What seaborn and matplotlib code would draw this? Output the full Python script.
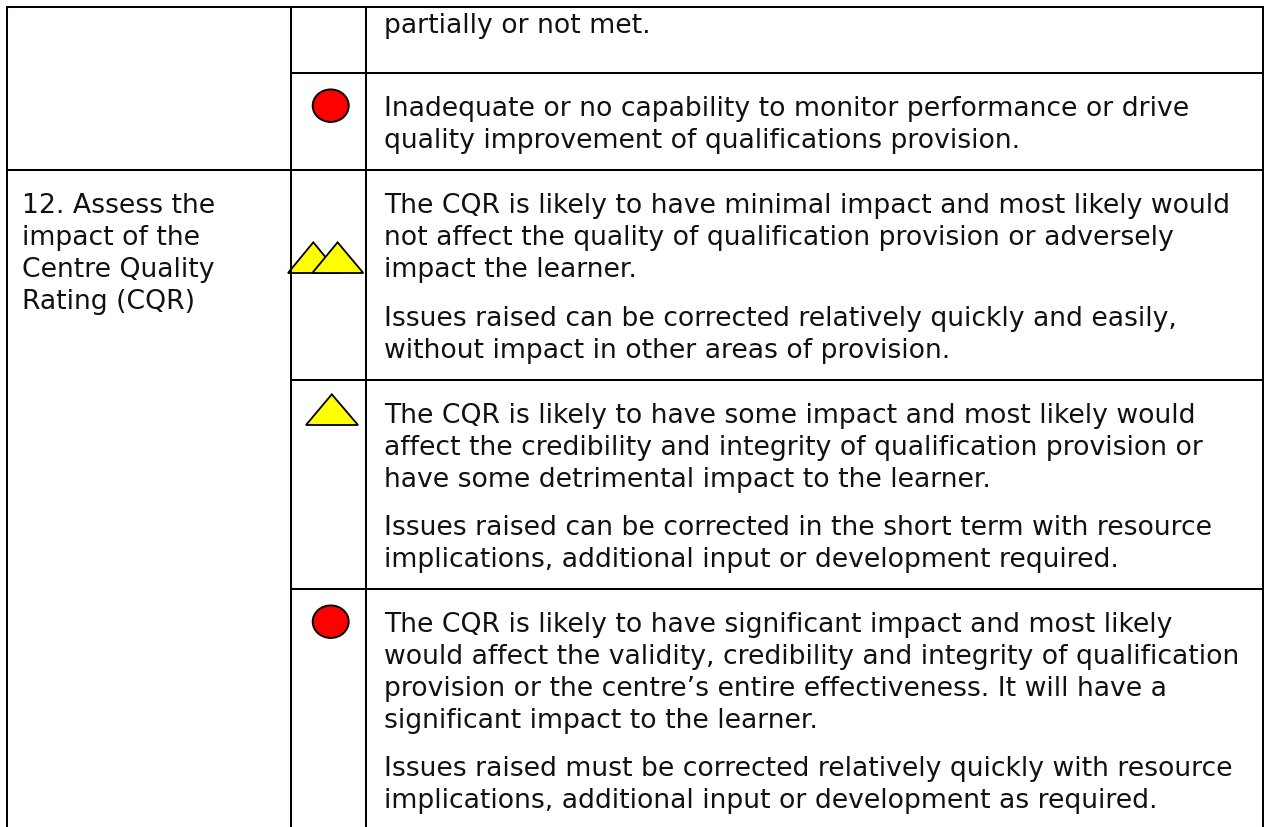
import matplotlib
matplotlib.use("Agg")
import matplotlib.pyplot as plt
import seaborn as sns
from matplotlib.patches import Ellipse, Polygon

sns.set_theme(style="white")
plt.rcParams['font.family'] = ['DejaVu Sans']

W, H = 1264, 828
category_text = ["12. Assess the", "impact of the", "Centre Quality", "Rating (CQR)"]
category_y = [213, 245, 277, 309.5]

body_text = [
    ("partially or not met.", 33),
    ("Inadequate or no capability to monitor performance or drive", 115.5),
    ("quality improvement of qualifications provision.", 147.5),
    ("The CQR is likely to have minimal impact and most likely would", 213),
    ("not affect the quality of qualification provision or adversely", 245),
    ("impact the learner.", 277),
    ("Issues raised can be corrected relatively quickly and easily,", 326),
    ("without impact in other areas of provision.", 358),
    ("The CQR is likely to have some impact and most likely would", 423),
    ("affect the credibility and integrity of qualification provision or", 455),
    ("have some detrimental impact to the learner.", 487),
    ("Issues raised can be corrected in the short term with resource", 535),
    ("implications, additional input or development required.", 567),
    ("The CQR is likely to have significant impact and most likely", 632),
    ("would affect the validity, credibility and integrity of qualification", 664),
    ("provision or the centre\u2019s entire effectiveness. It will have a", 696),
    ("significant impact to the learner.", 728),
    ("Issues raised must be corrected relatively quickly with resource", 776),
    ("implications, additional input or development as required.", 808),
]

fig = plt.figure(figsize=(W / 100, H / 100), dpi=100)
ax = fig.add_axes([0, 0, 1, 1])
ax.set_xlim(0, W)
ax.set_ylim(H, 0)
ax.axis("off")

lw = 1.45
for x in (7, 291, 366, 1263):
    ax.plot([x, x], [7, 828], color="black", lw=lw, solid_capstyle="butt")
ax.plot([6, 1264], [7.5, 7.5], color="black", lw=lw, solid_capstyle="butt")
ax.plot([291, 1263], [74, 74], color="black", lw=lw, solid_capstyle="butt")
ax.plot([7, 1263], [171, 171], color="black", lw=lw, solid_capstyle="butt")
ax.plot([291, 1263], [381, 381], color="black", lw=lw, solid_capstyle="butt")
ax.plot([291, 1263], [590, 590], color="black", lw=lw, solid_capstyle="butt")

tris = [[(288, 274), (313.3, 243.3), (338.6, 274)],
        [(312.3, 274), (337.6, 243.3), (363.3, 274)],
        [(306, 426), (331.8, 395.3), (358, 426)]]
for t in tris:
    ax.add_patch(Polygon(t, closed=True, fc="#FFFF00", ec="black", lw=1.3, joinstyle="miter"))
for c in [(330.7, 106.7), (330.7, 622.7)]:
    ax.add_patch(Ellipse(c, 36, 32.5, fc="#FF0000", ec="black", lw=1.4))

fs = 19.2
for s, y in body_text:
    ax.text(384, y, s, fontsize=fs, color="#111111", va="baseline", ha="left")
for s, y in zip(category_text, category_y):
    ax.text(21.5, y, s, fontsize=fs, color="#111111", va="baseline", ha="left")

fig.savefig("out.png", dpi=100)
